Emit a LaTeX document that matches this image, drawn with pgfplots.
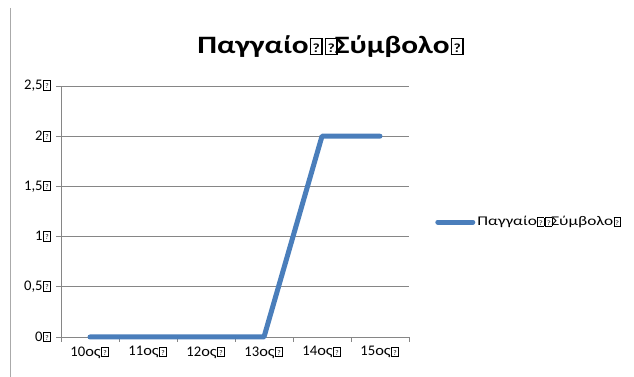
\documentclass[border=0pt]{standalone}
\usepackage{pgfplots}
\pgfplotsset{compat=1.18}
\usepackage{fontspec}
\setmainfont{Carlito}
% the Greek in the reference is set in a wider fallback face
\newfontfamily\gr[FakeStretch=1.3]{Carlito}
\newfontfamily\grt[FakeStretch=1.25]{Carlito}
\newfontfamily\grs[FakeStretch=1.12]{Carlito}
\definecolor{serieblue}{RGB}{74,126,187}
\definecolor{gridgray}{RGB}{134,134,134}
\definecolor{framegray}{RGB}{170,170,170}
% missing-glyph box as in the reference
\newcommand\mg{\kern0.04em{\setlength\fboxsep{0pt}\setlength\fboxrule{0.06em}%
  \fbox{\makebox[0.4em]{\rule{0pt}{0.58em}\raisebox{0.06em}{\scalebox{0.5}{?}}}}}\kern0.04em}
\begin{document}
\begin{tikzpicture}[x=1pt,y=1pt]
\path[use as bounding box] (0,0) rectangle (634,377);
\draw[framegray, line width=1.5pt] (10.5,369) -- (10.5,0);
\node[font=\fontsize{25}{30}\selectfont\bfseries\grt] at (331,330) {Παγγαίο\mg\mg\kern-0.15em Σύμβολο\mg};
\begin{axis}[
    at={(61pt,40pt)}, anchor=south west,
    scale only axis, width=348pt, height=251pt,
    xmin=-0.5, xmax=5.5, ymin=0, ymax=2.5,
    axis x line*=bottom, axis y line*=left,
    axis line style={gridgray, line width=0.8pt, -},
    xtick={0,...,5},
    xticklabels={10{\grs ος}\mg,11{\grs ος}\mg,12{\grs ος}\mg,13{\grs ος}\mg,14{\grs ος}\mg,15{\grs ος}\mg},
    minor xtick={-0.5,0.5,1.5,2.5,3.5,4.5,5.5},
    major x tick style={draw=none},
    minor x tick style={gridgray, line width=0.8pt},
    minor tick length=5pt,
    ytick={0,0.5,1,1.5,2,2.5},
    yticklabels={0\mg,{0,5\mg},1\mg,{1,5\mg},2\mg,{2,5\mg}},
    y tick style={gridgray, line width=0.8pt},
    major tick length=5pt,
    tick align=outside,
    ymajorgrids, major grid style={gridgray, line width=0.8pt},
    tick label style={font=\fontsize{14.67}{17}\selectfont},
    xticklabel style={yshift=-1pt},
    yticklabel style={xshift=-1pt},
    clip=false,
    legend style={at={(1.075,0.458)}, anchor=west, draw=none, fill=none,
        font=\fontsize{13.3}{16}\selectfont\gr, inner sep=0pt},
    legend image code/.code={\draw[#1, line cap=round] (0pt,0pt) -- (35pt,0pt);},
]
\addplot[serieblue, line width=5pt, line join=round, line cap=round]
    coordinates {(0,0) (1,0) (2,0) (3,0) (4,2) (5,2)};
\addlegendentry{Παγγαίο\mg\mg\kern-0.12em Σύμβολο\mg}
\end{axis}
\end{tikzpicture}
\end{document}
